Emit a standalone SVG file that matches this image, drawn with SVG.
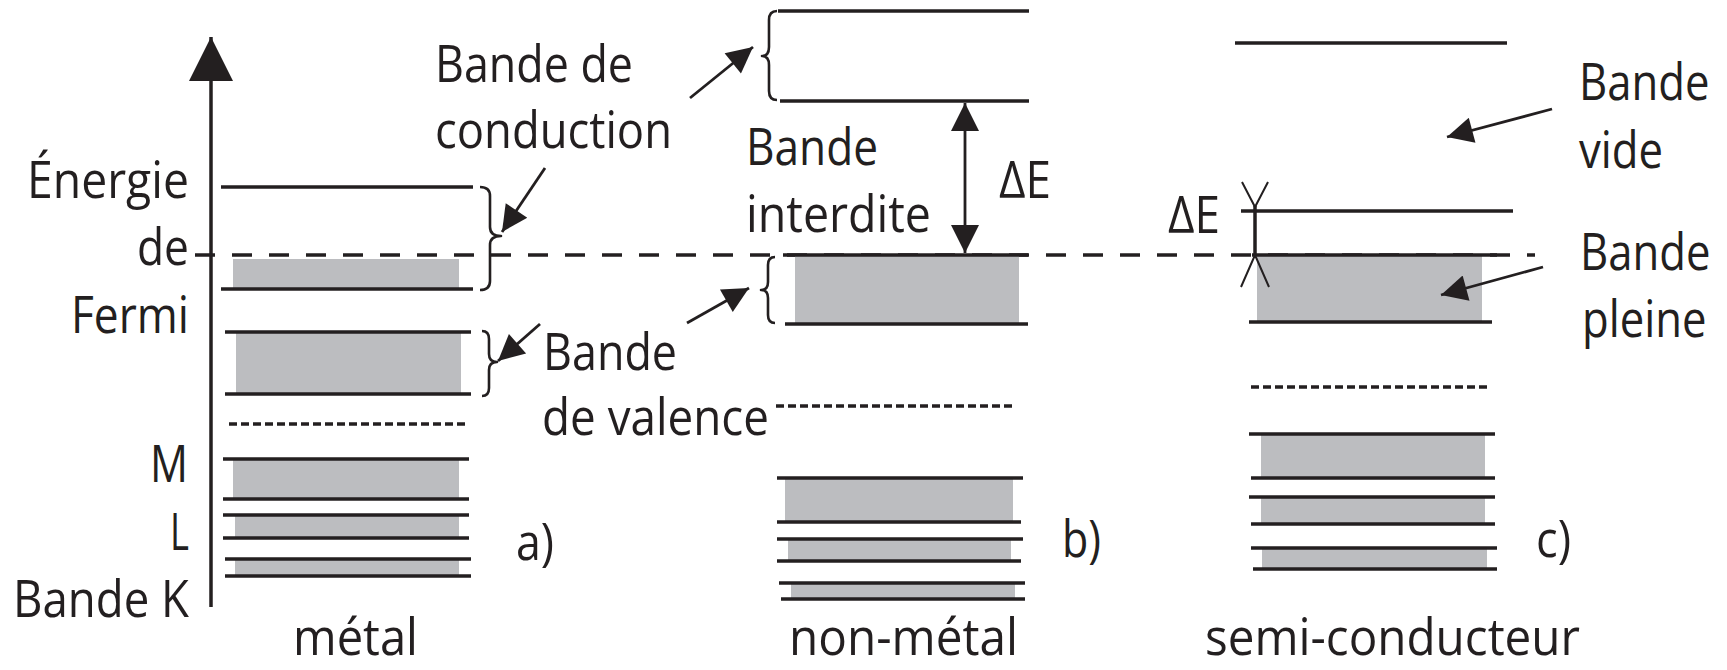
<svg xmlns="http://www.w3.org/2000/svg" width="1727" height="670" viewBox="0 0 1727 670">
  <style>
    .lbl { font-family: "Open Sans", "Noto Sans", "Liberation Sans", sans-serif; font-size: 52px; fill: #231f20; }
    .lvl { stroke: #231f20; stroke-width: 3.5; fill: none; }
    .dot { stroke: #231f20; stroke-width: 3.5; stroke-dasharray: 8 4; fill: none; }
    .fill { fill: #bcbdc0; }
    .brace { stroke: #231f20; stroke-width: 2.6; fill: none; stroke-linejoin: round; }
    .ptr { stroke: #231f20; stroke-width: 2.8; fill: none; }
    .fermi { stroke: #231f20; stroke-width: 3.4; stroke-dasharray: 20 17; fill: none; }
    .thin { stroke: #231f20; stroke-width: 2; fill: none; }
  </style>
  <defs>
    <marker id="head" viewBox="0 0 10 10" refX="10" refY="5" markerUnits="userSpaceOnUse" markerWidth="31" markerHeight="26" orient="auto">
      <path d="M0,0 L10,5 L0,10 z" fill="#231f20"/>
    </marker>
    <marker id="gapHead" viewBox="0 0 10 10" refX="10" refY="5" markerUnits="userSpaceOnUse" markerWidth="34" markerHeight="28" orient="auto-start-reverse">
      <path d="M0,0 L10,5 L0,10 z" fill="#231f20"/>
    </marker>
    <marker id="axisHead" viewBox="0 0 10 10" refX="10" refY="5" markerUnits="userSpaceOnUse" markerWidth="50" markerHeight="44" orient="auto">
      <path d="M0,0 L10,5 L0,10 z" fill="#231f20"/>
    </marker>
  </defs>

  <rect width="1727" height="670" fill="#ffffff"/>

  <!-- energy axis with its labels -->
  <g id="axis">
    <line class="lvl" x1="211" y1="607" x2="211" y2="37" stroke-width="3.2" marker-end="url(#axisHead)"/>
    <text class="lbl" x="27" y="198" textLength="162" lengthAdjust="spacingAndGlyphs">Énergie</text>
    <text class="lbl" x="137" y="265" textLength="52" lengthAdjust="spacingAndGlyphs">de</text>
    <text class="lbl" x="71" y="333" textLength="118" lengthAdjust="spacingAndGlyphs">Fermi</text>
    <text class="lbl" x="150" y="482" textLength="38" lengthAdjust="spacingAndGlyphs">M</text>
    <text class="lbl" x="170" y="550" textLength="19" lengthAdjust="spacingAndGlyphs">L</text>
    <text class="lbl" x="13" y="617" textLength="176" lengthAdjust="spacingAndGlyphs">Bande K</text>
  </g>

  <!-- Fermi level, drawn under the band edges -->
  <g id="fermi-level">
    <line class="fermi" x1="195" y1="255" x2="1535" y2="255"/>
  </g>

  <!-- a) metal -->
  <g id="metal">
    <rect class="fill" x="233" y="259" width="226" height="31"/>
    <rect class="fill" x="236" y="332" width="225" height="62"/>
    <rect class="fill" x="233" y="459" width="226" height="40"/>
    <rect class="fill" x="235" y="515" width="224" height="23"/>
    <rect class="fill" x="235" y="559" width="224" height="17"/>
    <line class="lvl" x1="221" y1="187" x2="473" y2="187"/>
    <line class="lvl" x1="221" y1="289" x2="473" y2="289"/>
    <line class="lvl" x1="225" y1="332" x2="471" y2="332"/>
    <line class="lvl" x1="225" y1="394" x2="471" y2="394"/>
    <line class="dot" x1="229" y1="424" x2="469" y2="424"/>
    <line class="lvl" x1="223" y1="459" x2="469" y2="459"/>
    <line class="lvl" x1="223" y1="499" x2="469" y2="499"/>
    <line class="lvl" x1="223" y1="515" x2="469" y2="515"/>
    <line class="lvl" x1="223" y1="538" x2="469" y2="538"/>
    <line class="lvl" x1="225" y1="559" x2="471" y2="559"/>
    <line class="lvl" x1="225" y1="576" x2="471" y2="576"/>
    <path class="brace" d="M480,187 Q490,187 490,196 L490,227 Q490,236 501,236 Q490,236 490,245 L490,281 Q490,290 480,290"/>
    <path class="brace" d="M482,331 Q489,331 489,339 L489,354 Q489,362 497,362 Q489,362 489,370 L489,388 Q489,396 482,396"/>
    <text class="lbl" x="516" y="560" textLength="38" lengthAdjust="spacingAndGlyphs">a)</text>
    <text class="lbl" x="293" y="655" textLength="125" lengthAdjust="spacingAndGlyphs">métal</text>
  </g>

  <!-- b) non-metal -->
  <g id="non-metal">
    <rect class="fill" x="795" y="255" width="224" height="68"/>
    <rect class="fill" x="785" y="478" width="228" height="44"/>
    <rect class="fill" x="788" y="539" width="223" height="22"/>
    <rect class="fill" x="791" y="583" width="224" height="16"/>
    <line class="lvl" x1="778" y1="11" x2="1029" y2="11"/>
    <line class="lvl" x1="780" y1="101" x2="1029" y2="101"/>
    <line class="lvl" x1="783" y1="255" x2="1028" y2="255"/>
    <line class="lvl" x1="785" y1="324" x2="1028" y2="324"/>
    <line class="dot" x1="776" y1="406" x2="1015" y2="406"/>
    <line class="lvl" x1="777" y1="478" x2="1023" y2="478"/>
    <line class="lvl" x1="777" y1="522" x2="1021" y2="522"/>
    <line class="lvl" x1="777" y1="539" x2="1023" y2="539"/>
    <line class="lvl" x1="777" y1="561" x2="1021" y2="561"/>
    <line class="lvl" x1="779" y1="583" x2="1025" y2="583"/>
    <line class="lvl" x1="781" y1="599" x2="1025" y2="599"/>
    <path class="brace" d="M777,11 Q769,11 769,20 L769,47 Q769,56 762,56 Q769,56 769,65 L769,91 Q769,100 777,100"/>
    <path class="brace" d="M775,257 Q768,257 768,265 L768,282 Q768,290 761,290 Q768,290 768,298 L768,315 Q768,323 775,323"/>
    <text class="lbl" x="746" y="165" textLength="132" lengthAdjust="spacingAndGlyphs">Bande</text>
    <text class="lbl" x="746" y="232" textLength="185" lengthAdjust="spacingAndGlyphs">interdite</text>
    <text class="lbl" x="999" y="198" textLength="52" lengthAdjust="spacingAndGlyphs">ΔE</text>
    <text class="lbl" x="1062" y="557" textLength="39" lengthAdjust="spacingAndGlyphs">b)</text>
    <text class="lbl" x="789" y="655" textLength="229" lengthAdjust="spacingAndGlyphs">non-métal</text>
  </g>

  <!-- c) semiconductor -->
  <g id="semiconductor">
    <rect class="fill" x="1257" y="255" width="225" height="67"/>
    <rect class="fill" x="1261" y="434" width="224" height="44"/>
    <rect class="fill" x="1261" y="497" width="224" height="27"/>
    <rect class="fill" x="1262" y="548" width="225" height="21"/>
    <line class="lvl" x1="1235" y1="43" x2="1507" y2="43"/>
    <line class="lvl" x1="1241" y1="211" x2="1513" y2="211"/>
    <line class="lvl" x1="1252" y1="255" x2="1497" y2="255"/>
    <line class="lvl" x1="1249" y1="322" x2="1492" y2="322"/>
    <line class="dot" x1="1251" y1="387" x2="1491" y2="387"/>
    <line class="lvl" x1="1249" y1="434" x2="1495" y2="434"/>
    <line class="lvl" x1="1251" y1="478" x2="1495" y2="478"/>
    <line class="lvl" x1="1249" y1="497" x2="1495" y2="497"/>
    <line class="lvl" x1="1251" y1="524" x2="1495" y2="524"/>
    <line class="lvl" x1="1251" y1="548" x2="1497" y2="548"/>
    <line class="lvl" x1="1253" y1="569" x2="1497" y2="569"/>
    <text class="lbl" x="1536" y="557" textLength="35" lengthAdjust="spacingAndGlyphs">c)</text>
    <text class="lbl" x="1205" y="655" textLength="375" lengthAdjust="spacingAndGlyphs">semi-conducteur</text>
  </g>

  <!-- gap marker of the semiconductor -->
  <g id="gap-semiconductor">
    <line class="lvl" x1="1255" y1="206" x2="1255" y2="256" stroke-width="3"/>
    <polyline class="thin" points="1242,182 1255,207 1268,182"/>
    <polyline class="thin" points="1241,287 1255,255 1269,287"/>
    <text class="lbl" x="1168" y="233" textLength="52" lengthAdjust="spacingAndGlyphs">ΔE</text>
  </g>

  <!-- callout labels -->
  <g id="label-conduction">
    <text class="lbl" x="435" y="82" textLength="198" lengthAdjust="spacingAndGlyphs">Bande de</text>
    <text class="lbl" x="435" y="148" textLength="237" lengthAdjust="spacingAndGlyphs">conduction</text>
  </g>
  <g id="label-valence">
    <text class="lbl" x="543" y="370" textLength="134" lengthAdjust="spacingAndGlyphs">Bande</text>
    <text class="lbl" x="542" y="435" textLength="227" lengthAdjust="spacingAndGlyphs">de valence</text>
  </g>
  <!-- right-hand labels are narrowed with a horizontal scale so they stay inside the page -->
  <g id="label-empty">
    <text class="lbl" transform="translate(1579,100) scale(0.84,1)">Bande</text>
    <text class="lbl" transform="translate(1579,168) scale(0.84,1)">vide</text>
  </g>
  <g id="label-full">
    <text class="lbl" transform="translate(1580,270) scale(0.84,1)">Bande</text>
    <text class="lbl" transform="translate(1582,337) scale(0.84,1)">pleine</text>
  </g>

  <!-- connectors -->
  <g id="connectors">
    <line class="ptr" x1="545" y1="168" x2="502" y2="232" marker-end="url(#head)"/>
    <line class="ptr" x1="540" y1="324" x2="498" y2="361" marker-end="url(#head)"/>
    <line class="ptr" x1="690" y1="98" x2="753" y2="47" marker-end="url(#head)"/>
    <line class="ptr" x1="687" y1="323" x2="749" y2="288" marker-end="url(#head)"/>
    <line class="ptr" x1="1552" y1="109" x2="1447" y2="137" marker-end="url(#head)"/>
    <line class="ptr" x1="1543" y1="267" x2="1441" y2="295" marker-end="url(#head)"/>
    <line class="ptr" x1="965" y1="103" x2="965" y2="253" stroke-width="3" marker-start="url(#gapHead)" marker-end="url(#gapHead)"/>
  </g>
</svg>
